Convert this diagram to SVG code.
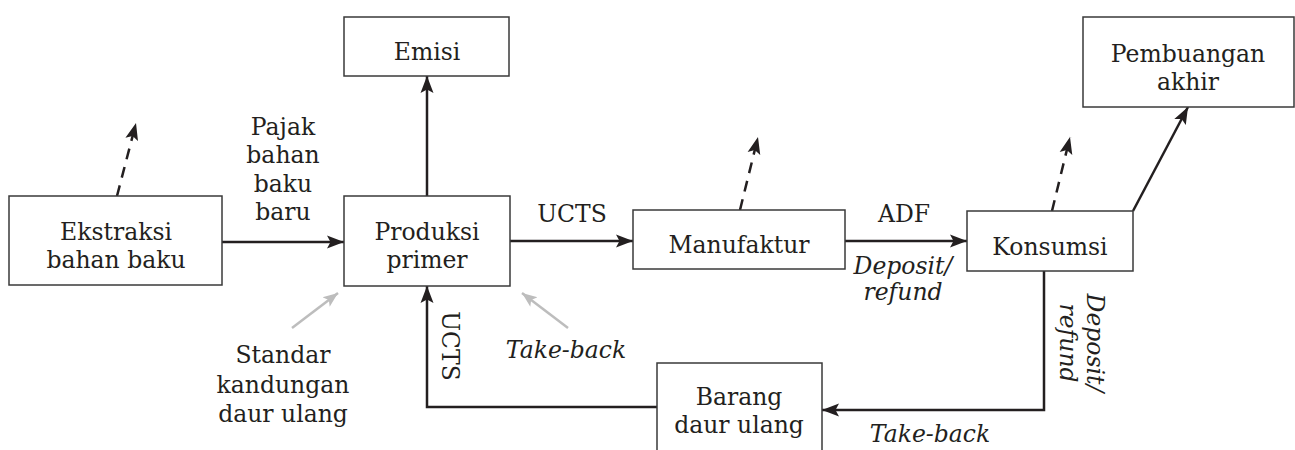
<svg xmlns="http://www.w3.org/2000/svg" width="1295" height="450" viewBox="0 0 1295 450">
<style>
.box{fill:#fff;stroke:#3a3a3a;stroke-width:1.5}
.t{font-family:"DejaVu Serif","Liberation Serif",serif;font-size:23.5px;fill:#231f20;text-anchor:middle}
.i{font-style:italic;font-size:23.5px}
.c{fill:none;stroke:#231f20;stroke-width:2.5}
.d{fill:none;stroke:#231f20;stroke-width:2.5;stroke-dasharray:11 8}
.g{fill:none;stroke:#bdbdbd;stroke-width:2.5}
</style>
<defs>
<marker id="ah" markerUnits="userSpaceOnUse" markerWidth="18" markerHeight="14" refX="17" refY="7" orient="auto">
<path d="M0,0.5 L17,7 L0,13.5 L3.5,7 z" fill="#231f20"/>
</marker>
<marker id="ag" markerUnits="userSpaceOnUse" markerWidth="16" markerHeight="14" refX="15" refY="7" orient="auto">
<path d="M0,1 L15,7 L0,13 L3.5,7 z" fill="#bdbdbd"/>
</marker>
</defs>
<rect width="1295" height="450" fill="#fff"/>
<g id="connectors">
<line class="c" x1="222" y1="242" x2="344" y2="242" marker-end="url(#ah)"/>
<line class="c" x1="427" y1="196" x2="427" y2="76" marker-end="url(#ah)"/>
<line class="c" x1="510" y1="241" x2="633" y2="241" marker-end="url(#ah)"/>
<line class="c" x1="845" y1="241" x2="967" y2="241" marker-end="url(#ah)"/>
<line class="c" x1="1133" y1="211" x2="1188" y2="107" marker-end="url(#ah)"/>
<path class="c" d="M1044,271 V410 H822" marker-end="url(#ah)"/>
<path class="c" d="M657,407 H427 V286" marker-end="url(#ah)"/>
<line class="d" x1="117" y1="196" x2="136" y2="123" marker-end="url(#ah)"/>
<line class="d" x1="740" y1="210" x2="758" y2="137" marker-end="url(#ah)"/>
<line class="d" x1="1052" y1="211" x2="1070" y2="137" marker-end="url(#ah)"/>
<line class="g" x1="292" y1="328" x2="338" y2="293" marker-end="url(#ag)"/>
<line class="g" x1="568" y1="328" x2="522" y2="293" marker-end="url(#ag)"/>
<text class="t" x="283" y="135">Pajak</text>
<text class="t" x="283" y="163">bahan</text>
<text class="t" x="283" y="192">baku</text>
<text class="t" x="283" y="220">baru</text>
<text class="t" x="572" y="222">UCTS</text>
<text class="t" x="904" y="222">ADF</text>
<text class="t i" x="903" y="274">Deposit/</text>
<text class="t i" x="903" y="300">refund</text>
<text class="t" x="283" y="363">Standar</text>
<text class="t" x="283" y="393">kandungan</text>
<text class="t" x="283" y="422">daur ulang</text>
<text class="t i" x="566" y="358">Take-back</text>
<text class="t i" x="930" y="442">Take-back</text>
<text class="t" transform="translate(442,346) rotate(90)">UCTS</text>
<text class="t i" transform="translate(1087,343) rotate(90)">Deposit/</text>
<text class="t i" transform="translate(1060,343) rotate(90)">refund</text>
</g>
<g id="ekstraksi">
<rect class="box" x="9" y="196" width="213" height="89"/>
<text class="t" x="116" y="240">Ekstraksi</text>
<text class="t" x="116" y="268">bahan baku</text>
</g>
<g id="produksi">
<rect class="box" x="344" y="196" width="166" height="90"/>
<text class="t" x="427" y="240">Produksi</text>
<text class="t" x="427" y="268">primer</text>
</g>
<g id="emisi">
<rect class="box" x="344" y="17" width="165" height="59"/>
<text class="t" x="427" y="60">Emisi</text>
</g>
<g id="manufaktur">
<rect class="box" x="633" y="210" width="212" height="59"/>
<text class="t" x="739" y="253">Manufaktur</text>
</g>
<g id="konsumsi">
<rect class="box" x="967" y="211" width="166" height="60"/>
<text class="t" x="1050" y="255">Konsumsi</text>
</g>
<g id="pembuangan">
<rect class="box" x="1083" y="17" width="211" height="90"/>
<text class="t" x="1188" y="62">Pembuangan</text>
<text class="t" x="1188" y="90">akhir</text>
</g>
<g id="barang">
<rect class="box" x="657" y="363" width="165" height="100"/>
<text class="t" x="739" y="405">Barang</text>
<text class="t" x="739" y="433">daur ulang</text>
</g>
</svg>
